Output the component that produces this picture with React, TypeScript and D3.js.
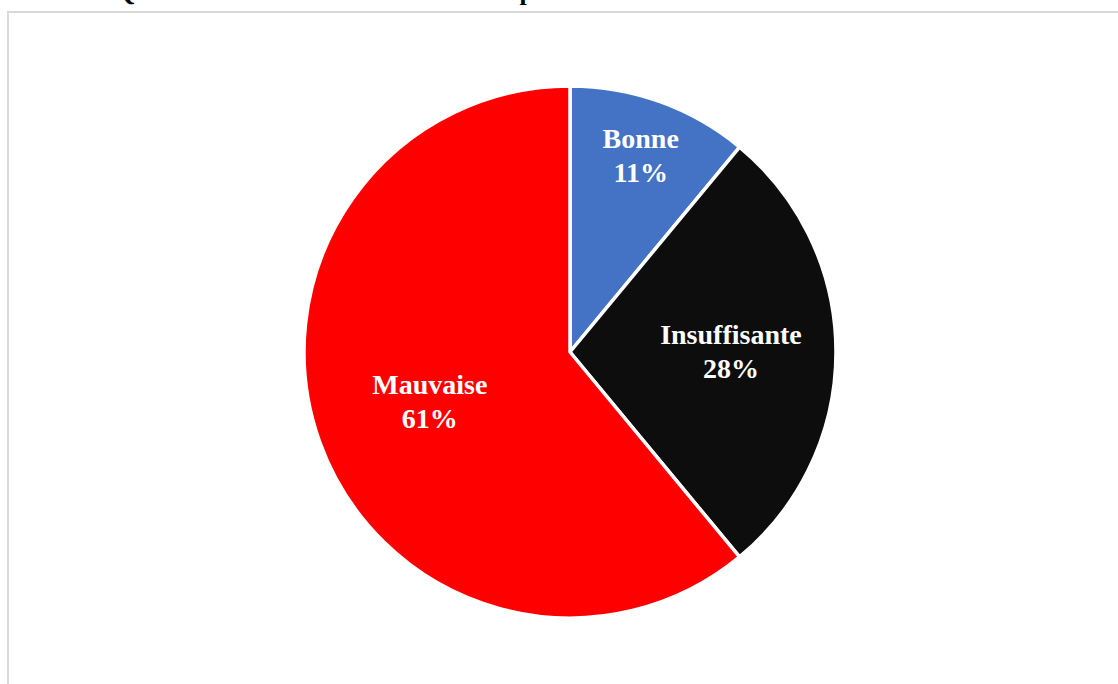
import React from "react";
import * as d3 from "d3";

const categories = ["Bonne", "Insuffisante", "Mauvaise"];
const values = [11, 28, 61];
const colors = ["#4472c4", "#0d0d0d", "#ff0000"];
const labelRadiusFrac = [0.785, 0.605, 0.56];
const title = "Qualité de l'eau consommée selon le point de vue des habitants";

const W = 1118;
const H = 684;
const cx = 570;
const cy = 352;
const R = 266;

export default function App() {
  const pie = d3.pie<number>().sort(null).value((d) => d);
  const arcs = pie(values);
  const arcGen = d3.arc<d3.PieArcDatum<number>>().innerRadius(0).outerRadius(R);
  const total = d3.sum(values);
  const font = "'Liberation Serif', 'Times New Roman', serif";
  return (
    <svg
      width={W}
      height={H}
      style={{ position: "absolute", left: 0, top: 0, background: "#fff" }}
    >
      <rect x={8} y={12} width={1300} height={1000} fill="#fff" stroke="#d9d9d9" strokeWidth={2} />
      <text x={115} y={0} fontFamily={font} fontWeight="bold" fontSize={26} fill="#000">
        {title}
      </text>
      <g transform={`translate(${cx},${cy})`}>
        {arcs.map((a, i) => (
          <path key={i} d={arcGen(a) || ""} fill={colors[i]} stroke="#fff" strokeWidth={3.5} strokeLinejoin="round" />
        ))}
        {arcs.map((a, i) => {
          const mid = (a.startAngle + a.endAngle) / 2;
          const r = R * labelRadiusFrac[i];
          const x = Math.sin(mid) * r;
          const y = -Math.cos(mid) * r;
          const pct = Math.round((values[i] / total) * 100) + "%";
          return (
            <text
              key={"t" + i}
              x={x}
              y={y}
              textAnchor="middle"
              fontFamily={font}
              fontWeight="bold"
              fontSize={28}
              fill="#fff"
            >
              <tspan x={x} dy={-17 + 9}>{categories[i]}</tspan>
              <tspan x={x} dy={34}>{pct}</tspan>
            </text>
          );
        })}
      </g>
    </svg>
  );
}
